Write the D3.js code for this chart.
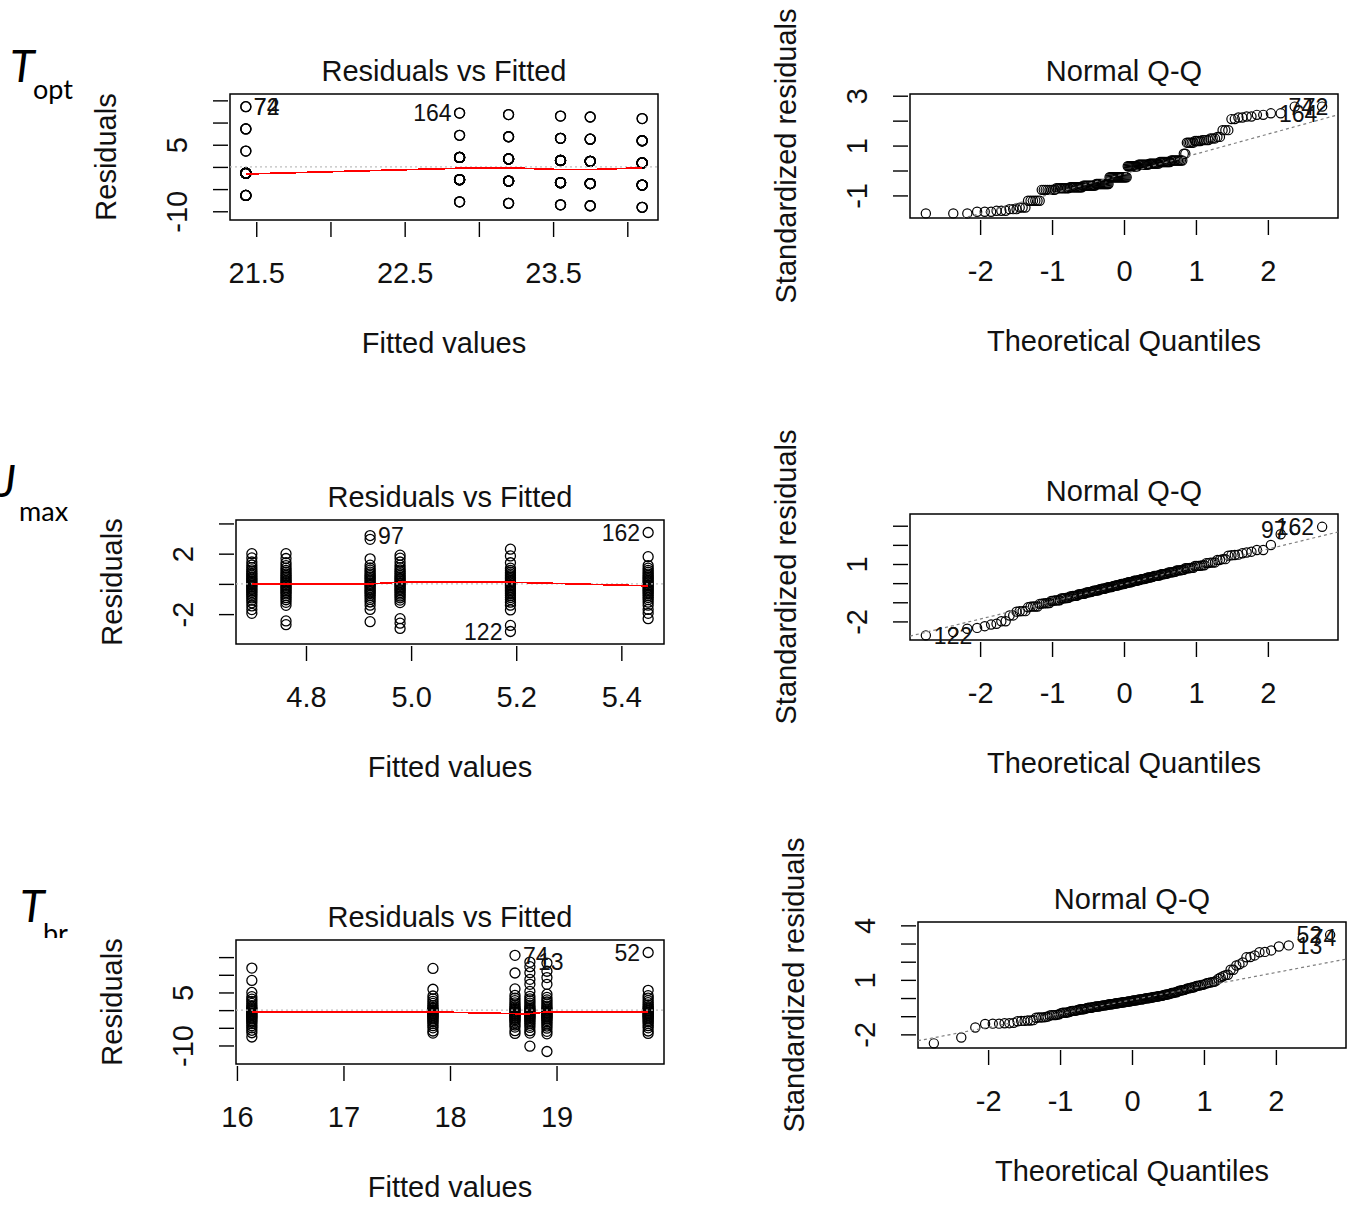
<!DOCTYPE html>
<html>
<head>
<meta charset="utf-8">
<script src="https://cdn.jsdelivr.net/npm/d3@7"></script>
<style>
  html, body { margin: 0; padding: 0; background: #fff; }
  svg text { font-family: "Liberation Sans", Arial, Helvetica, sans-serif; fill: #111; }
  .tag text { font-family: Lato, "Open Sans", sans-serif; fill: #000; }
</style>
</head>
<body>
<svg id="fig" width="1357" height="1205"></svg>
<script>
// ---------------- data ----------------
// T_opt: response is recorded in 5-degree classes; counts per treatment group
const toptFitted = [21.43, 22.87, 23.2, 23.55, 23.75, 24.1];
const toptLevels = [15, 20, 25, 30, 35];
const toptCounts = [
  [6, 17, 2, 3, 2],
  [3, 12, 9, 2, 2],
  [3, 11, 9, 3, 2],
  [3, 10, 9, 4, 2],
  [3, 9, 10, 4, 2],
  [3, 8, 10, 5, 2]
];
const toptIds = ["72", "74", "164"];
const toptSmooth = [-1.6, -0.3, -0.2, -0.6, -0.6, -0.2];

// J_max: residuals by treatment group
const jmaxFitted = [4.697, 4.762, 4.922, 4.979, 5.189, 5.451];
const jmaxG1 = [-1.95, -1.70, -1.46, -1.25, -1.08, -0.93, -0.80, -0.69, -0.57, -0.47, -0.37, -0.28, -0.18, -0.09, 0.01, 0.10, 0.19, 0.28, 0.38, 0.47, 0.58, 0.69, 0.81, 0.93, 1.08, 1.25, 1.45, 1.72, 2.00];
const jmaxG2 = [-2.70, -2.45, -1.42, -1.22, -1.05, -0.91, -0.78, -0.66, -0.55, -0.45, -0.34, -0.25, -0.15, -0.05, 0.04, 0.14, 0.23, 0.33, 0.44, 0.54, 0.65, 0.77, 0.90, 1.04, 1.21, 1.40, 1.68, 2.00];
const jmaxG3 = [-2.50, -1.69, -1.41, -1.20, -1.03, -0.89, -0.76, -0.64, -0.53, -0.43, -0.33, -0.23, -0.13, -0.04, 0.05, 0.15, 0.25, 0.35, 0.45, 0.55, 0.66, 0.78, 0.91, 1.05, 1.24, 1.66, 2.95, 3.20];
const jmaxG4 = [-2.95, -2.60, -2.30, -1.24, -1.07, -0.92, -0.80, -0.68, -0.57, -0.46, -0.37, -0.27, -0.18, -0.09, 0.00, 0.09, 0.18, 0.27, 0.37, 0.46, 0.57, 0.68, 0.80, 0.92, 1.07, 1.24, 1.45, 1.70, 1.90];
const jmaxG5 = [-3.15, -2.75, -1.72, -1.41, -1.21, -1.04, -0.90, -0.77, -0.65, -0.54, -0.44, -0.34, -0.24, -0.14, -0.05, 0.05, 0.14, 0.24, 0.34, 0.44, 0.54, 0.65, 0.77, 0.90, 1.04, 1.40, 1.85, 2.30];
const jmaxG6 = [-2.30, -1.95, -1.69, -1.41, -1.21, -1.04, -0.90, -0.77, -0.65, -0.54, -0.44, -0.34, -0.24, -0.14, -0.05, 0.05, 0.14, 0.24, 0.34, 0.44, 0.54, 0.65, 0.77, 0.90, 1.04, 1.21, 1.80, 3.40];
const jmaxIds = ["162", "97", "122"];
const jmaxSmooth = [0.0, 0.0, 0.0, 0.11, 0.11, -0.13];

// T_br: residuals by treatment group
const tbrFitted = [16.14, 17.84, 18.61, 18.75, 18.91, 19.86];
const tbrG1 = [-7.6, -6.4, -5.7, -5.0, -4.4, -3.8, -3.3, -2.9, -2.5, -2.2, -1.9, -1.6, -1.3, -1.05, -0.75, -0.45, -0.15, 0.15, 0.45, 0.85, 1.3, 1.9, 2.5, 3.1, 3.8, 5.0, 8.4, 11.9];
const tbrG2 = [-6.5, -5.9, -5.0, -4.4, -3.8, -3.3, -2.9, -2.5, -2.2, -1.9, -1.6, -1.35, -1.1, -0.85, -0.6, -0.35, -0.1, 0.1, 0.4, 0.8, 1.3, 1.9, 2.5, 3.2, 4.0, 5.9, 11.8];
const tbrG3 = [-6.6, -5.8, -4.8, -4.2, -3.6, -3.1, -2.7, -2.35, -2.05, -1.75, -1.45, -1.2, -0.95, -0.65, -0.35, -0.05, 0.25, 0.55, 0.95, 1.45, 2.05, 2.7, 3.4, 4.2, 6.0, 10.5, 15.5];
const tbrG4 = [-10.2, -6.5, -5.8, -4.9, -4.3, -3.7, -3.2, -2.8, -2.4, -2.1, -1.8, -1.5, -1.25, -1.0, -0.7, -0.4, -0.1, 0.2, 0.5, 0.9, 1.4, 2.0, 2.6, 3.2, 3.9, 5.3, 7.3, 8.7, 10.6, 12.3, 13.6];
const tbrG5 = [-11.7, -6.7, -6.0, -5.1, -4.5, -3.9, -3.4, -2.95, -2.55, -2.25, -1.95, -1.65, -1.4, -1.15, -0.9, -0.6, -0.3, 0.0, 0.35, 0.7, 1.15, 1.7, 2.3, 2.9, 3.6, 4.5, 7.3, 9.2, 11.0, 13.3];
const tbrG6 = [-6.6, -5.9, -5.0, -4.4, -3.8, -3.3, -2.9, -2.5, -2.2, -1.9, -1.6, -1.35, -1.1, -0.85, -0.6, -0.3, 0.0, 0.3, 0.6, 1.0, 1.5, 2.1, 2.7, 3.4, 4.1, 5.6, 16.3];
const tbrIds = ["52", "74", "13"];
const tbrSmooth = [-0.5, -0.5, -1.0, -1.0, -0.5, -0.5];

// tick values and the subset that carries a printed label
const toptXTicks = [21.5, 22, 22.5, 23, 23.5, 24], toptXLabels = [21.5, 22.5, 23.5];
const toptYTicks = [-10, -5, 0, 5, 10, 15], toptYLabels = [-10, 5];
const jmaxXTicks = [4.8, 5.0, 5.2, 5.4], jmaxXLabels = [4.8, 5.0, 5.2, 5.4];
const jmaxYTicks = [-2, 0, 2, 4], jmaxYLabels = [-2, 2];
const tbrXTicks = [16, 17, 18, 19], tbrXLabels = [16, 17, 18, 19];
const tbrYTicks = [-10, -5, 0, 5, 10, 15], tbrYLabels = [-10, 5];
const qqXTicks = [-2, -1, 0, 1, 2];
const toptQYTicks = [-1, 0, 1, 2, 3], toptQYLabels = [-1, 1, 3];
const jmaxQYTicks = [-2, -1, 0, 1, 2, 3], jmaxQYLabels = [-2, 1];
const tbrQYTicks = [-2, -1, 0, 1, 2, 3, 4], tbrQYLabels = [-2, 1, 4];

// ---------------- helpers ----------------
function qnorm(p) {
  const a = [-3.969683028665376e+01, 2.209460984245205e+02, -2.759285104469687e+02, 1.383577518672690e+02, -3.066479806614716e+01, 2.506628277459239e+00];
  const b = [-5.447609879822406e+01, 1.615858368580409e+02, -1.556989798598866e+02, 6.680131188771972e+01, -1.328068155288572e+01];
  const c = [-7.784894002430293e-03, -3.223964580411365e-01, -2.400758277161838e+00, -2.549732539343734e+00, 4.374664141464968e+00, 2.938163982698783e+00];
  const d = [7.784695709041462e-03, 3.224671290700398e-01, 2.445134137142996e+00, 3.754408661907416e+00];
  const pl = 0.02425;
  if (p < pl) {
    const q = Math.sqrt(-2 * Math.log(p));
    return (((((c[0]*q+c[1])*q+c[2])*q+c[3])*q+c[4])*q+c[5]) / ((((d[0]*q+d[1])*q+d[2])*q+d[3])*q+1);
  }
  if (p > 1 - pl) {
    const q = Math.sqrt(-2 * Math.log(1 - p));
    return -(((((c[0]*q+c[1])*q+c[2])*q+c[3])*q+c[4])*q+c[5]) / ((((d[0]*q+d[1])*q+d[2])*q+d[3])*q+1);
  }
  const q = p - 0.5, r = q * q;
  return (((((a[0]*r+a[1])*r+a[2])*r+a[3])*r+a[4])*r+a[5])*q / (((((b[0]*r+b[1])*r+b[2])*r+b[3])*r+b[4])*r+1);
}

function extend(lo, hi, f) { const d = (hi - lo) * f; return [lo - d, hi + d]; }

// residuals, standardized residuals and normal scores for a one-way model
function buildModel(fitted, groups, ids) {
  const pts = [];
  let rss = 0;
  groups.forEach((rs, gi) => rs.forEach(r => {
    pts.push({ g: gi, fit: fitted[gi], r: r, h: 1 / rs.length });
    rss += r * r;
  }));
  const n = pts.length;
  const s = Math.sqrt(rss / (n - fitted.length));
  pts.forEach(p => { p.rs = p.r / (s * Math.sqrt(1 - p.h)); });
  const sorted = pts.slice().sort((a, b) => a.rs - b.rs);
  sorted.forEach((p, i) => { p.q = qnorm((i + 0.5) / n); });
  const byAbs = pts.slice().sort((a, b) => Math.abs(b.rs) - Math.abs(a.rs));
  byAbs.slice(0, ids.length).forEach((p, i) => { p.id = ids[i]; });
  const ys = sorted.map(p => p.rs);
  const q1 = d3.quantile(ys, 0.25), q3 = d3.quantile(ys, 0.75);
  const slope = (q3 - q1) / (qnorm(0.75) - qnorm(0.25));
  const icpt = q1 - slope * qnorm(0.25);
  return { pts, slope, icpt };
}

const toptGroups = toptCounts.map((cnt, gi) => {
  const out = [];
  cnt.forEach((k, li) => { for (let j = 0; j < k; j++) out.push(+(toptLevels[li] - toptFitted[gi]).toFixed(2)); });
  return out;
});

const models = {
  topt: buildModel(toptFitted, toptGroups, toptIds),
  jmax: buildModel(jmaxFitted, [jmaxG1, jmaxG2, jmaxG3, jmaxG4, jmaxG5, jmaxG6], jmaxIds),
  tbr:  buildModel(tbrFitted, [tbrG1, tbrG2, tbrG3, tbrG4, tbrG5, tbrG6], tbrIds)
};

// ---------------- drawing ----------------
const svg = d3.select("#fig");
const FS = 29, ID_FS = 23, TICK_LEN = 15, TICK_GAP = 2;
const R_RVF = 5, R_QQ = 4.6;
const fmt = v => (Number.isInteger(v) ? String(v) : v.toFixed(1));
const fmt1 = v => v.toFixed(1);

let clipId = 0;
function panelBase(box, title, xTitle, yTitle, xs, ys, t) {
  const g = svg.append("g");
  const cx = (box.x0 + box.x1) / 2, cy = (box.y0 + box.y1) / 2;
  const id = "clip" + (clipId++);
  g.append("clipPath").attr("id", id).append("rect")
    .attr("x", box.x0).attr("y", box.y0).attr("width", box.x1 - box.x0).attr("height", box.y1 - box.y0);

  // x axis
  const xa = d3.axisBottom(xs).tickValues(t.xTicks).tickSize(TICK_LEN).tickPadding(25)
    .tickFormat(v => t.xLabels.some(l => Math.abs(l - v) < 1e-9) ? t.xFmt(v) : "");
  g.append("g").attr("transform", `translate(0,${box.y1 + TICK_GAP})`).call(xa)
    .call(s => s.select(".domain").remove())
    .call(s => s.selectAll("line").attr("stroke", "#000").attr("stroke-width", 1.4))
    .call(s => s.selectAll("text").attr("font-size", FS).attr("fill", "#111")
      .style("font-family", '"Liberation Sans", Arial, sans-serif'));

  // y axis with labels parallel to the axis
  const ya = d3.axisLeft(ys).tickValues(t.yTicks).tickSize(TICK_LEN)
    .tickFormat(v => t.yLabels.some(l => Math.abs(l - v) < 1e-9) ? String(v) : "");
  g.append("g").attr("transform", `translate(${box.x0 - TICK_GAP},0)`).call(ya)
    .call(s => s.select(".domain").remove())
    .call(s => s.selectAll("line").attr("stroke", "#000").attr("stroke-width", 1.4))
    .call(s => s.selectAll("text").attr("font-size", FS).attr("fill", "#111")
      .style("font-family", '"Liberation Sans", Arial, sans-serif')
      .attr("x", null).attr("text-anchor", "middle").attr("dy", "0.36em")
      .attr("transform", "translate(-51,0) rotate(-90)"));

  // frame
  g.append("rect").attr("x", box.x0).attr("y", box.y0)
    .attr("width", box.x1 - box.x0).attr("height", box.y1 - box.y0)
    .attr("fill", "none").attr("stroke", "#000").attr("stroke-width", 1.5);

  g.append("text").attr("x", cx).attr("y", box.y0 - 13).attr("text-anchor", "middle")
    .attr("font-size", FS).text(title);
  g.append("text").attr("x", cx).attr("y", box.y1 + 133).attr("text-anchor", "middle")
    .attr("font-size", FS).text(xTitle);
  g.append("text").attr("transform", `translate(${box.x0 - 124},${cy}) rotate(-90)`)
    .attr("text-anchor", "middle").attr("dy", "0.36em").attr("font-size", FS).text(yTitle);
  return { g, clip: `url(#${id})` };
}

function idLabel(g, x, y, text, side) {
  const off = 8;
  g.append("text").attr("x", side === "right" ? x + off : x - off).attr("y", y)
    .attr("dy", "0.36em").attr("text-anchor", side === "right" ? "start" : "end")
    .attr("font-size", ID_FS).attr("fill", "#222").text(text);
}

function rvfPanel(box, model, fitted, smooth, t, sides) {
  const pts = model.pts;
  const xs = d3.scaleLinear().domain(extend(d3.min(fitted), d3.max(fitted), 0.04)).range([box.x0, box.x1]);
  const yr = extend(d3.min(pts, p => p.r), d3.max(pts, p => p.r), 0.08);
  const ys = d3.scaleLinear().domain(extend(yr[0], yr[1], 0.04)).range([box.y1, box.y0]);
  const { g, clip } = panelBase(box, "Residuals vs Fitted", "Fitted values", "Residuals", xs, ys, t);
  g.append("g").selectAll("circle").data(pts).join("circle")
    .attr("cx", p => xs(p.fit)).attr("cy", p => ys(p.r)).attr("r", R_RVF)
    .attr("fill", "none").attr("stroke", "#000").attr("stroke-width", 1.3);
  g.append("line").attr("clip-path", clip)
    .attr("x1", box.x0).attr("x2", box.x1).attr("y1", ys(0)).attr("y2", ys(0))
    .attr("stroke", "#bebebe").attr("stroke-width", 1.3).attr("stroke-dasharray", "2,3");
  g.append("path").datum(fitted.map((f, i) => [f, smooth[i]]))
    .attr("d", d3.line().x(d => xs(d[0])).y(d => ys(d[1])))
    .attr("fill", "none").attr("stroke", "#ff0000").attr("stroke-width", 1.7)
    .attr("shape-rendering", "crispEdges");
  const mid = d3.mean(xs.domain());
  pts.filter(p => p.id).forEach(p => {
    const side = sides && sides[p.id] ? sides[p.id] : (p.fit > mid ? "left" : "right");
    idLabel(g, xs(p.fit), ys(p.r), p.id, side);
  });
}

function qqPanel(box, model, t, sides) {
  const pts = model.pts;
  const xs = d3.scaleLinear().domain(extend(d3.min(pts, p => p.q), d3.max(pts, p => p.q), 0.04)).range([box.x0, box.x1]);
  let lo = d3.min(pts, p => p.rs), hi = d3.max(pts, p => p.rs);
  hi = hi + (hi - lo) * 0.075;
  const ys = d3.scaleLinear().domain(extend(lo, hi, 0.04)).range([box.y1, box.y0]);
  const { g, clip } = panelBase(box, "Normal Q-Q", "Theoretical Quantiles", "Standardized residuals", xs, ys, t);
  g.append("g").selectAll("circle").data(pts).join("circle")
    .attr("cx", p => xs(p.q)).attr("cy", p => ys(p.rs)).attr("r", R_QQ)
    .attr("fill", "none").attr("stroke", "#000").attr("stroke-width", 1.2);
  const [x0, x1] = xs.domain();
  g.append("line").attr("clip-path", clip)
    .attr("x1", xs(x0)).attr("x2", xs(x1))
    .attr("y1", ys(model.icpt + model.slope * x0)).attr("y2", ys(model.icpt + model.slope * x1))
    .attr("stroke", "#7f7f7f").attr("stroke-width", 1.2).attr("stroke-dasharray", "3,3");
  const mid = d3.mean(xs.domain());
  pts.filter(p => p.id).forEach(p => {
    const side = sides && sides[p.id] ? sides[p.id] : (p.q > mid ? "left" : "right");
    idLabel(g, xs(p.q), ys(p.rs), p.id, side);
  });
}

// ---------------- layout ----------------
rvfPanel({ x0: 230, x1: 658, y0: 94, y1: 220 }, models.topt, toptFitted, toptSmooth,
  { xTicks: toptXTicks, xLabels: toptXLabels, yTicks: toptYTicks, yLabels: toptYLabels, xFmt: fmt1 });
qqPanel({ x0: 910, x1: 1338, y0: 94, y1: 218 }, models.topt,
  { xTicks: qqXTicks, xLabels: qqXTicks, yTicks: toptQYTicks, yLabels: toptQYLabels, xFmt: fmt },
  { "72": "right", "164": "right" });

rvfPanel({ x0: 236, x1: 664, y0: 520, y1: 644 }, models.jmax, jmaxFitted, jmaxSmooth,
  { xTicks: jmaxXTicks, xLabels: jmaxXLabels, yTicks: jmaxYTicks, yLabels: jmaxYLabels, xFmt: fmt1 });
qqPanel({ x0: 910, x1: 1338, y0: 514, y1: 640 }, models.jmax,
  { xTicks: qqXTicks, xLabels: qqXTicks, yTicks: jmaxQYTicks, yLabels: jmaxQYLabels, xFmt: fmt });

rvfPanel({ x0: 236, x1: 664, y0: 940, y1: 1064 }, models.tbr, tbrFitted, tbrSmooth,
  { xTicks: tbrXTicks, xLabels: tbrXLabels, yTicks: tbrYTicks, yLabels: tbrYLabels, xFmt: fmt },
  { "74": "right", "13": "right" });
qqPanel({ x0: 918, x1: 1346, y0: 922, y1: 1048 }, models.tbr,
  { xTicks: qqXTicks, xLabels: qqXTicks, yTicks: tbrQYTicks, yLabels: tbrQYLabels, xFmt: fmt },
  { "74": "right", "13": "right" });

// ---------------- row tags ----------------
const tags = svg.append("g").attr("class", "tag");
tags.append("clipPath").attr("id", "tagclip").append("rect").attr("x", 0).attr("y", 860).attr("width", 120).attr("height", 78);
function tag(x, y, main, sub, sx, sy, clip) {
  const t = tags.append("g");
  if (clip) t.attr("clip-path", "url(#tagclip)");
  t.append("text").attr("x", x).attr("y", y).attr("font-size", 45).attr("font-style", "italic").text(main);
  t.append("text").attr("x", sx).attr("y", sy).attr("font-size", 27).text(sub);
}
tag(10, 82, "T", "opt", 33, 99, false);
tag(-2, 497, "J", "max", 19, 521, false);
tag(20, 922, "T", "br", 43, 943, true);
</script>
</body>
</html>
